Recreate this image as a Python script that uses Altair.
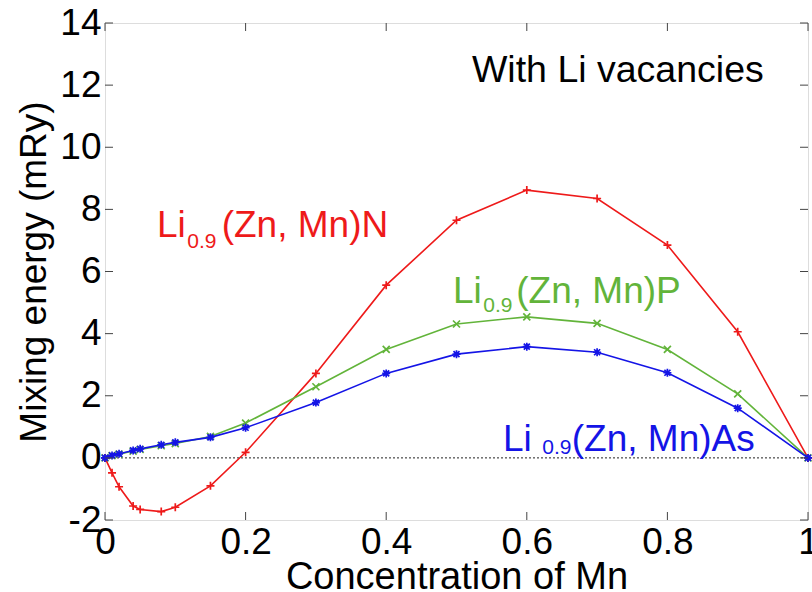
import altair as alt
import pandas as pd

conc = [0, 0.01, 0.02, 0.04, 0.05, 0.08, 0.1, 0.15, 0.2, 0.3, 0.4, 0.5, 0.6, 0.7, 0.8, 0.9, 1.0]
e_N = [0, -0.48, -0.93, -1.55, -1.66, -1.73, -1.59, -0.90, 0.18, 2.72, 5.56, 7.65, 8.62, 8.35, 6.85, 4.06, 0]
e_P = [0, 0.07, 0.12, 0.22, 0.27, 0.39, 0.46, 0.69, 1.12, 2.29, 3.49, 4.31, 4.54, 4.33, 3.49, 2.06, 0]
e_As = [0, 0.08, 0.13, 0.24, 0.29, 0.42, 0.50, 0.66, 0.97, 1.78, 2.72, 3.34, 3.58, 3.40, 2.74, 1.60, 0]

x_ticks = [0, 0.2, 0.4, 0.6, 0.8, 1.0]
y_ticks = [-2, 0, 2, 4, 6, 8, 10, 12, 14]

W, H = 703, 497
FONT = "Liberation Sans"
RED, GREEN, BLUE = "#ee1a1a", "#62b43a", "#1414e6"

xs = alt.Scale(domain=[0, 1], nice=False, zero=False)
ys = alt.Scale(domain=[-2, 14], nice=False, zero=False)

PLUS = "M-1,0L1,0M0,-1L0,1"
CROSS = "M-1,-1L1,1M-1,1L1,-1"
STAR = "M-1,0L1,0M0,-1L0,1M-0.75,-0.75L0.75,0.75M-0.75,0.75L0.75,-0.75"

def series(vals, color, shape, size):
    df = pd.DataFrame({"x": conc, "y": vals})
    base = alt.Chart(df).encode(
        x=alt.X("x:Q", scale=xs,
                axis=alt.Axis(values=x_ticks, title="Concentration of Mn", grid=False,
                              ticks=False, domain=False, labelFontSize=37, titleFontSize=38,
                              labelFont=FONT, titleFont=FONT, labelColor="black",
                              titleColor="black", titleFontWeight="normal", labelPadding=4,
                              titlePadding=-2, labelFlush=False,
                              labelExpr="datum.value == 1 ? '1' : datum.value == 0 ? '0' : format(datum.value, '.1f')")),
        y=alt.Y("y:Q", scale=ys,
                axis=alt.Axis(values=y_ticks, title="Mixing energy (mRy)", grid=False,
                              ticks=False, domain=False, labelFontSize=37, titleFontSize=37,
                              labelFont=FONT, titleFont=FONT, labelColor="black",
                              titleColor="black", titleFontWeight="normal", labelPadding=4,
                              titlePadding=6, labelFlush=False,
                              labelExpr="replace(datum.label, '\u2212', '-')")),
    )
    line = base.mark_line(color=color, strokeWidth=1.6)
    pts = base.mark_point(shape=shape, color=color, size=size, strokeWidth=1.7, filled=False, opacity=1)
    return line + pts

zero = alt.Chart(pd.DataFrame({"y": [0]})).mark_rule(
    color="#222222", strokeDash=[2, 2], strokeWidth=1
).encode(y=alt.Y("y:Q", scale=ys), x=alt.value(0), x2=alt.value(W))

tdx = pd.DataFrame({"x": x_ticks})
tdy = pd.DataFrame({"y": y_ticks})
tick_col = "#444444"
tb = alt.Chart(tdx).mark_rule(color=tick_col, strokeWidth=1).encode(
    x=alt.X("x:Q", scale=xs), y=alt.value(H), y2=alt.value(H - 8))
tt = alt.Chart(tdx).mark_rule(color=tick_col, strokeWidth=1).encode(
    x=alt.X("x:Q", scale=xs), y=alt.value(0), y2=alt.value(8))
tl = alt.Chart(tdy).mark_rule(color=tick_col, strokeWidth=1).encode(
    y=alt.Y("y:Q", scale=ys), x=alt.value(0), x2=alt.value(8))
tr = alt.Chart(tdy).mark_rule(color=tick_col, strokeWidth=1).encode(
    y=alt.Y("y:Q", scale=ys), x=alt.value(W - 8), x2=alt.value(W))

def label(x, y, text, color, size):
    return alt.Chart(pd.DataFrame({"x": [x], "y": [y], "t": [text]})).mark_text(
        align="left", baseline="alphabetic", font=FONT, fontSize=size, color=color
    ).encode(x=alt.X("x:Q", scale=xs), y=alt.Y("y:Q", scale=ys), text="t:N")

labels = (
    label(0.074, 7.11, "Li", RED, 37) + label(0.117, 6.75, "0.9", RED, 21) + label(0.166, 7.11, "(Zn, Mn)N", RED, 37)
    + label(0.495, 4.98, "Li", GREEN, 37) + label(0.538, 4.69, "0.9", GREEN, 21) + label(0.585, 4.98, "(Zn, Mn)P", GREEN, 37)
    + label(0.566, 0.225, "Li", BLUE, 37) + label(0.622, 0.13, "0.9", BLUE, 21) + label(0.664, 0.225, "(Zn, Mn)As", BLUE, 37)
    + label(0.522, 12.09, "With Li vacancies", "black", 37.5)
)

chart = alt.layer(
    zero,
    series(e_N, RED, PLUS, 64),
    series(e_P, GREEN, CROSS, 49),
    series(e_As, BLUE, STAR, 64),
    tb, tt, tl, tr,
    labels,
).properties(
    width=W, height=H,
    autosize=alt.AutoSizeParams(type="none"),
    padding={"left": 105, "top": 23, "right": 4, "bottom": 72},
).configure_view(stroke="#555555", strokeWidth=1.2).configure(background="white")

chart.save("out.html", embed_options={"renderer": "svg", "actions": False})
